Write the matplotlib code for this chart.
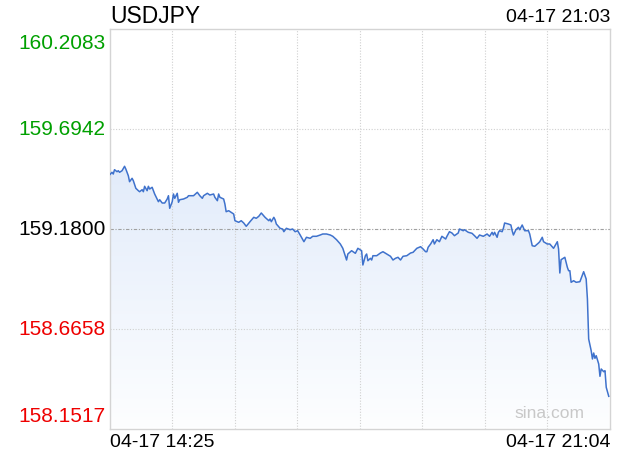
import matplotlib
matplotlib.use("Agg")
import matplotlib.pyplot as plt
import numpy as np

plt.rcParams['font.family'] = ['Liberation Sans', 'DejaVu Sans']

symbol = "USDJPY"
last_time = "04-17 21:03"
x_labels = ["04-17 14:25", "04-17 21:04"]
y_ticks = [160.2083, 159.6942, 159.1800, 158.6658, 158.1517]
prev_close = 159.1800
span_minutes = 399

# minutes after 14:25
minutes = [0, 2, 3, 4, 6, 7, 8, 10, 12, 13, 15, 16, 18, 19, 21, 23, 24, 26, 27, 28,
           30, 31, 32, 34, 35, 36, 38, 39, 40, 42, 44, 46, 47, 48, 50, 51, 52, 54, 55, 56,
           59, 62, 63, 67, 70, 72, 74, 75, 78, 80, 83, 84, 86, 87, 88, 91, 92, 93, 95, 97,
           99, 100, 103, 105, 107, 109, 112, 115, 117, 119, 121, 124, 127, 128, 129, 131, 132, 133, 136, 138,
           139, 141, 144, 146, 148, 150, 152, 155, 157, 160, 162, 165, 168, 170, 173, 176, 178, 181, 184, 186,
           189, 190, 193, 196, 198, 201, 202, 204, 205, 206, 208, 209, 210, 213, 216, 218, 221, 224, 226, 228,
           230, 232, 234, 237, 240, 242, 245, 248, 250, 252, 253, 254, 256, 258, 259, 261, 263, 265, 268, 269,
           271, 273, 275, 278, 279, 282, 283, 286, 289, 291, 293, 295, 298, 301, 303, 305, 306, 307, 309, 310,
           311, 313, 314, 315, 318, 320, 321, 322, 324, 326, 327, 329, 331, 334, 335, 337, 339, 342, 343, 345,
           346, 349, 351, 354, 357, 358, 359, 360, 363, 365, 366, 367, 368, 370, 372, 375, 378, 380, 381, 382,
           384, 385, 386, 387, 388, 390, 391, 392, 394, 395, 396, 398]

prices = [159.4567, 159.4706, 159.4618, 159.4840, 159.4737, 159.4788, 159.4706, 159.4788, 159.5015, 159.4876,
          159.4531, 159.4222, 159.4397, 159.4273, 159.3882, 159.3759, 159.3707, 159.3810, 159.3707, 159.3985,
          159.3759, 159.3985, 159.3846, 159.3934, 159.3759, 159.3589, 159.3331, 159.3192, 159.3295, 159.3125,
          159.3125, 159.3331, 159.3501, 159.2853, 159.3192, 159.3589, 159.3367, 159.3625, 159.3162, 159.3295,
          159.3331, 159.3419, 159.3501, 159.3501, 159.3676, 159.3501, 159.3367, 159.3501, 159.3625, 159.3537,
          159.3589, 159.3419, 159.3244, 159.3589, 159.3419, 159.3331, 159.3074, 159.2678, 159.2729, 159.2647,
          159.2559, 159.2214, 159.2132, 159.2214, 159.2096, 159.1926, 159.2163, 159.2389, 159.2338, 159.2441,
          159.2611, 159.2389, 159.2214, 159.2302, 159.2163, 159.2389, 159.2266, 159.2044, 159.1823, 159.1787,
          159.1648, 159.1823, 159.1751, 159.1787, 159.1648, 159.1699, 159.1478, 159.1133, 159.1360, 159.1308,
          159.1411, 159.1411, 159.1478, 159.1530, 159.1530, 159.1478, 159.1411, 159.1236, 159.1015, 159.0793,
          159.0191, 159.0500, 159.0670, 159.0536, 159.0793, 159.0670, 158.9934, 159.0412, 159.0500, 159.0155,
          159.0279, 159.0191, 159.0412, 159.0412, 159.0551, 159.0618, 159.0500, 159.0382, 159.0191, 159.0279,
          159.0330, 159.0191, 159.0382, 159.0412, 159.0551, 159.0587, 159.0793, 159.0876, 159.0757, 159.0618,
          159.0618, 159.0845, 159.1015, 159.1236, 159.1015, 159.1236, 159.1133, 159.1411, 159.1272, 159.1411,
          159.1648, 159.1581, 159.1442, 159.1581, 159.1787, 159.1699, 159.1751, 159.1617, 159.1565, 159.1442,
          159.1308, 159.1478, 159.1411, 159.1530, 159.1411, 159.1617, 159.1478, 159.1617, 159.1360, 159.1617,
          159.1699, 159.1648, 159.1823, 159.2096, 159.2044, 159.1993, 159.1699, 159.1478, 159.1751, 159.1874,
          159.1751, 159.1993, 159.1699, 159.1699, 159.1530, 159.0927, 159.0896, 159.1066, 159.1133, 159.1360,
          159.1133, 159.1015, 159.1015, 159.0793, 159.1133, 159.0757, 158.9522, 159.0207, 159.0330, 158.9815,
          158.9640, 158.9640, 158.9043, 158.9125, 158.9043, 158.9074, 158.9589, 158.9213, 158.8183, 158.6124,
          158.5522, 158.5095, 158.5403, 158.5131, 158.5264, 158.4837, 158.4204, 158.4580, 158.4441, 158.4492,
          158.3638, 158.3174]

fig = plt.figure(figsize=(6.2, 4.6), dpi=100)
ax = fig.add_axes([109.5 / 620, 30.5 / 460, 500.5 / 620, 399.5 / 460])
ymin, ymax = y_ticks[-1], y_ticks[0]
ax.set_xlim(0, span_minutes)
ax.set_ylim(ymin, ymax)

# gradient fill under the line
grad = np.linspace(0, 1, 256).reshape(-1, 1)
top_c = np.array([212, 226, 248]) / 255
bot_c = np.array([253, 254, 255]) / 255
img = top_c * (1 - grad[..., None]) + bot_c * grad[..., None]
img = img.reshape(256, 1, 3)
poly = ax.fill_between(minutes, prices, ymin, color='none', lw=0)
im = ax.imshow(img, extent=[0, span_minutes, ymin, ymax], aspect='auto',
               origin='upper', zorder=1)
path = poly.get_paths()[0]
im.set_clip_path(path, transform=ax.transData)

ax.plot(minutes, prices, color='#3f72cc', lw=1.1, zorder=3)

# grid
for i in range(1, 8):
    ax.axvline(span_minutes * i / 8, color='#d0d0d0', lw=0.8, ls=(0, (1, 1.5)), zorder=2)
for v in [y_ticks[1], y_ticks[3]]:
    ax.axhline(v, color='#d0d0d0', lw=0.8, ls=(0, (1, 1.5)), zorder=2)
ax.axhline(prev_close, color='#a0a0a0', lw=0.8, ls=(0, (3, 1.5, 1, 1.5)), zorder=2)

for s in ax.spines.values():
    s.set_color('#d4d4d4')
    s.set_linewidth(1.0)
ax.set_xticks([])
ax.set_yticks([])

# y labels
colors = ['#00a000', '#00a000', '#000000', '#ee0000', '#ee0000']
vas = ['top', 'center', 'center', 'center', 'bottom']
offs = [-4, 0, 0, 0, 3]
for v, c, va, o in zip(y_ticks, colors, vas, offs):
    ax.annotate(f"{v:.4f}", xy=(0, v), xycoords=('axes fraction', 'data'),
                xytext=(-3, o * 0.72), textcoords='offset points',
                ha='right', va=va, color=c, fontsize=15)

fig.text(110 / 620, 1 - 16.5 / 460, symbol, fontsize=16.5, ha='left', va='center', color='#000000')
fig.text(610 / 620, 1 - 17.5 / 460, last_time, fontsize=14, ha='right', va='center', color='#000000')
fig.text(110 / 620, 1 - 443 / 460, x_labels[0], fontsize=14, ha='left', va='center', color='#000000')
fig.text(610 / 620, 1 - 443 / 460, x_labels[1], fontsize=14, ha='right', va='center', color='#000000')
ax.text(0.95, 0.04, "sina.com", transform=ax.transAxes, fontsize=12.5,
        ha='right', va='center', color='#c8c8c8', zorder=4)

fig.savefig("out.png", dpi=100)
